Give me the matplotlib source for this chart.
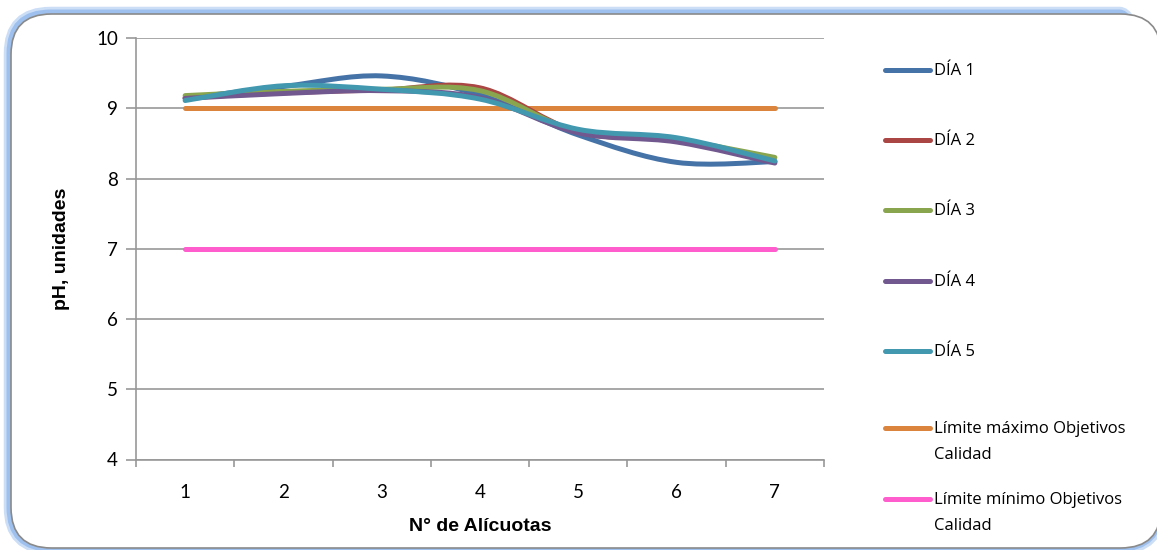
import numpy as np
import matplotlib
matplotlib.use("Agg")
import matplotlib.pyplot as plt
from matplotlib.path import Path
from matplotlib.patches import PathPatch, FancyBboxPatch
from matplotlib.lines import Line2D

alicuotas = [1, 2, 3, 4, 5, 6, 7]
dia1 = [9.14, 9.31, 9.46, 9.19, 8.62, 8.23, 8.24]
dia2 = [9.15, 9.22, 9.26, 9.29, 8.66, 8.55, 8.24]
dia3 = [9.18, 9.24, 9.27, 9.25, 8.66, 8.55, 8.30]
dia4 = [9.14, 9.21, 9.25, 9.15, 8.65, 8.52, 8.22]
dia5 = [9.11, 9.32, 9.27, 9.13, 8.70, 8.58, 8.25]
lim_max = [9, 9, 9, 9, 9, 9, 9]
lim_min = [7, 7, 7, 7, 7, 7, 7]

series = [
    ("DÍA 1", dia1, "#4572A7"),
    ("DÍA 2", dia2, "#AA4643"),
    ("DÍA 3", dia3, "#89A54E"),
    ("DÍA 4", dia4, "#71588F"),
    ("DÍA 5", dia5, "#4198AF"),
    ("Límite máximo Objetivos\nCalidad", lim_max, "#DB843D"),
    ("Límite mínimo Objetivos\nCalidad", lim_min, "#FF5CCD"),
]

yticks = [4, 5, 6, 7, 8, 9, 10]

W, H = 1157, 550
fig = plt.figure(figsize=(W / 100, H / 100), dpi=100)
fig.patch.set_facecolor("white")

# outer frame with glow
for lw, col, al in [(9, "#a9c8f0", 0.6), (5, "#93b9ec", 0.8)]:
    fb = FancyBboxPatch((10 / W, 2 / H), 1150 / W, 535 / H,
                        boxstyle="round,pad=0,rounding_size=0.035",
                        transform=fig.transFigure, facecolor="none",
                        edgecolor=col, lw=lw, alpha=al, zorder=-3,
                        mutation_aspect=W / H)
    fig.patches.append(fb)
fb = FancyBboxPatch((11 / W, 2 / H), 1150 / W, 534 / H,
                    boxstyle="round,pad=0,rounding_size=0.035",
                    transform=fig.transFigure, facecolor="white",
                    edgecolor="#8a8a8a", lw=1.2, zorder=-2,
                    mutation_aspect=W / H)
fig.patches.append(fb)

ax = fig.add_axes([136 / W, 1 - 459.5 / H, (824 - 136) / W, (459.5 - 38) / H])
ax.set_facecolor("none")


def smooth_path(x, y, t=1 / 6):
    x = np.asarray(x, float)
    y = np.asarray(y, float)
    n = len(x)
    verts = [(x[0], y[0])]
    codes = [Path.MOVETO]
    for i in range(n - 1):
        x0, y0 = (x[i - 1], y[i - 1]) if i > 0 else (x[i], y[i])
        x3, y3 = (x[i + 2], y[i + 2]) if i + 2 < n else (x[i + 1], y[i + 1])
        c1 = (x[i] + (x[i + 1] - x0) * t, y[i] + (y[i + 1] - y0) * t)
        c2 = (x[i + 1] - (x3 - x[i]) * t, y[i + 1] - (y3 - y[i]) * t)
        verts += [c1, c2, (x[i + 1], y[i + 1])]
        codes += [Path.CURVE4] * 3
    return Path(verts, codes)


for z, (name, vals, col) in enumerate(series):
    if name.startswith("DÍA"):
        p = PathPatch(smooth_path(alicuotas, vals), facecolor="none",
                      edgecolor=col, lw=3.6, capstyle="round",
                      joinstyle="round", zorder=3 + z)
        ax.add_patch(p)
    else:
        ax.plot(alicuotas, vals, color=col, lw=3.6, solid_capstyle="round",
                zorder=2)

ax.set_xlim(0.5, 7.5)
ax.set_ylim(4, 10)
ax.set_yticks(yticks)
ax.set_xticks(alicuotas)
ax.set_xticks(np.arange(0.5, 7.6, 1), minor=True)
ax.grid(axis="y", color="#989898", lw=1.2, zorder=1)
ax.set_axisbelow(True)
for s in ["top", "right"]:
    ax.spines[s].set_visible(False)
for s in ["left", "bottom"]:
    ax.spines[s].set_color("#989898")
    ax.spines[s].set_linewidth(1.2)
ax.tick_params(axis="y", length=7, color="#989898", width=1.2, pad=6)
ax.tick_params(axis="x", which="major", length=0, pad=18)
ax.tick_params(axis="x", which="minor", length=5, color="#989898", width=1.2)
for lab in ax.get_xticklabels() + ax.get_yticklabels():
    lab.set_fontfamily("Lato")
    lab.set_fontsize(13.5)
    lab.set_color("black")

ax.set_xlabel("N° de Alícuotas", fontfamily="Liberation Sans",
              fontweight="bold", fontsize=14, labelpad=12)
ax.set_ylabel("pH, unidades", fontfamily="Liberation Sans",
              fontweight="bold", fontsize=14, labelpad=19)

# legend (drawn entry by entry to match spacing)
leg_y = [70, 140, 210, 281, 351, 428, 499]
for (name, vals, col), yp in zip(series, leg_y):
    yf = 1 - yp / H
    fig.add_artist(Line2D([885 / W, 930 / W], [yf, yf], color=col, lw=3.6,
                          solid_capstyle="round", transform=fig.transFigure))
    lines = name.split("\n")
    for k, txt in enumerate(lines):
        fig.text(934 / W, 1 - (yp + 1 + 26 * k) / H, txt,
                 fontfamily="Open Sans", fontsize=12, va="center", ha="left")

fig.savefig("out.png", dpi=100, facecolor="white")
